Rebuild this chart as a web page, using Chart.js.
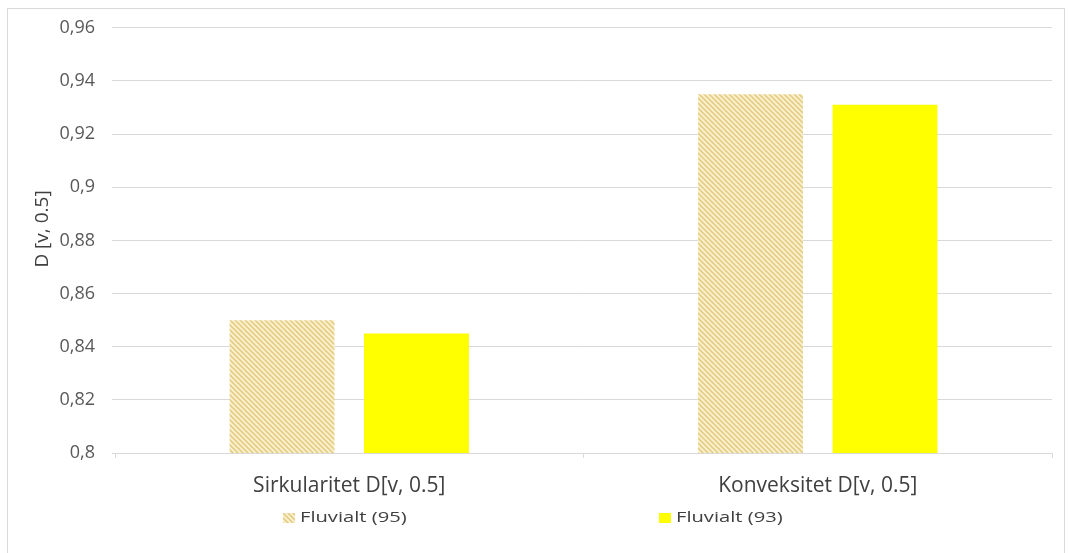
<!DOCTYPE html>
<html>
<head>
<meta charset="utf-8">
<script src="https://cdn.jsdelivr.net/npm/chart.js@4.4.1/dist/chart.umd.min.js"></script>
<style>
  html, body { margin: 0; padding: 0; background: #fff; }
  #wrap { position: relative; width: 1069px; height: 553px; }
  #frame { position: absolute; left: 7px; top: 8px; width: 1058px; height: 560px; border: 1px solid #d9d9d9; box-sizing: border-box; pointer-events: none; }
  canvas { display: block; }
</style>
</head>
<body>
<div id="wrap">
  <canvas id="chart" width="1069" height="553"></canvas>
  <div id="frame"></div>
</div>
<script>
// Categories, series and axis settings
const categories = ['Sirkularitet D[v, 0.5]', 'Konveksitet D[v, 0.5]'];
const seriesNames = ['Fluvialt (95)', 'Fluvialt (93)'];
const fluvialt95 = [0.850, 0.935];
const fluvialt93 = [0.845, 0.931];
const yMin = 0.8, yMax = 0.96, yStep = 0.02;
const yTitle = 'D [v, 0.5]';

const FONT = '"Open Sans", sans-serif';

// Diagonal "\" hatch fill for the first series
function makeHatch() {
  const size = 5;
  const c = document.createElement('canvas');
  c.width = size; c.height = size;
  const g = c.getContext('2d');
  g.fillStyle = '#faf1cf';
  g.fillRect(0, 0, size, size);
  g.strokeStyle = '#e6cd86';
  g.lineWidth = 1.6;
  g.beginPath();
  g.moveTo(-1, -1); g.lineTo(size + 1, size + 1);
  g.moveTo(-size - 1, -1); g.lineTo(1, size + 1);
  g.moveTo(size - 1, -1); g.lineTo(2 * size + 1, size + 1);
  g.stroke();
  return g.createPattern(c, 'repeat');
}
const ctx = document.getElementById('chart').getContext('2d');
const hatch = makeHatch();
const yellow = '#ffff00';

// Rotated y-axis title and the legend under the category labels
const extras = {
  id: 'extras',
  afterDraw(chart) {
    const c = chart.ctx;
    c.save();
    c.fillStyle = '#404040';
    c.font = '19px ' + FONT;
    c.textAlign = 'center';
    c.textBaseline = 'middle';
    c.translate(43, 229);
    c.rotate(-Math.PI / 2);
    c.fillText(yTitle, 0, 0);
    c.restore();

    const items = [
      { text: seriesNames[0], fill: hatch, x: 283 },
      { text: seriesNames[1], fill: yellow, x: 659 }
    ];
    const y = 518;
    c.save();
    c.font = '14px ' + FONT;
    c.textBaseline = 'middle';
    c.textAlign = 'left';
    items.forEach(it => {
      c.fillStyle = it.fill;
      c.fillRect(it.x, y - 5, 12, 10);
      c.save();
      c.translate(it.x + 17, y);
      c.scale(1.44, 1);
      c.fillStyle = '#404040';
      c.fillText(it.text, 0, 0);
      c.restore();
    });
    c.restore();
  }
};

new Chart(ctx, {
  type: 'bar',
  data: {
    labels: categories,
    datasets: [
      { label: seriesNames[0], data: fluvialt95, backgroundColor: hatch, borderWidth: 0 },
      { label: seriesNames[1], data: fluvialt93, backgroundColor: yellow, borderWidth: 0 }
    ]
  },
  options: {
    responsive: false,
    animation: false,
    devicePixelRatio: 1,
    layout: { padding: { top: 27, right: 17, bottom: 40, left: 0 } },
    categoryPercentage: 0.574,
    barPercentage: 0.78,
    plugins: {
      legend: { display: false },
      tooltip: { enabled: false }
    },
    scales: {
      x: {
        afterFit: s => { s.height = 60; },
        grid: { drawOnChartArea: false, drawTicks: true, tickLength: 5, color: '#d9d9d9' },
        border: { color: '#d9d9d9' },
        ticks: { color: '#404040', font: { family: FONT, size: 21 }, padding: 15 }
      },
      y: {
        min: yMin, max: yMax,
        afterFit: s => { s.width = 115; },
        grid: { color: '#d9d9d9', drawTicks: true, tickLength: 3 },
        border: { display: false },
        ticks: {
          stepSize: yStep,
          color: '#595959',
          font: { family: FONT, size: 18 },
          padding: 17,
          callback: v => (Math.round(v * 100) / 100).toString().replace('.', ',')
        }
      }
    }
  },
  plugins: [extras]
});
</script>
</body>
</html>
